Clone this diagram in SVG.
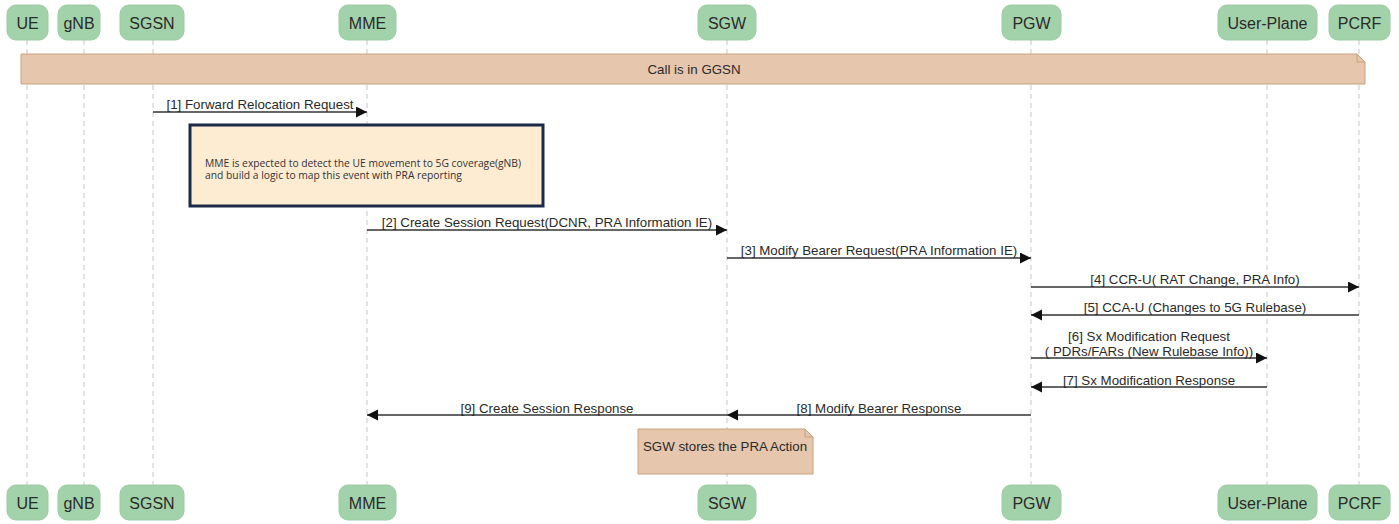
<svg xmlns="http://www.w3.org/2000/svg" width="1399" height="524" viewBox="0 0 1399 524">
<defs>
<style>
.hd{fill:#a2d2aa;stroke:#9ccba4;stroke-width:1}
.ht{font-family:"Liberation Sans",Arial,sans-serif;font-size:16px;fill:#2a2a2a;text-anchor:middle}
.ll{stroke:#c8c8c8;stroke-width:1;stroke-dasharray:5,4;fill:none}
.msg{stroke:#333;stroke-width:1.3;fill:none}
.ml{font-family:"Liberation Sans",Arial,sans-serif;font-size:13.3px;fill:#2a2a2a;text-anchor:middle}
.band{fill:#e6c6ad;stroke:#c9a27f;stroke-width:1}
.nt{font-family:"Open Sans","Liberation Sans",sans-serif;font-size:10.3px;fill:#333}
</style>
<marker id="ah" markerWidth="12" markerHeight="12" refX="11" refY="5.5" orient="auto" markerUnits="userSpaceOnUse">
<path d="M0,0 L11,5.5 L0,11 Z" fill="#111"/>
</marker>
</defs>
<rect width="1399" height="524" fill="#fff"/>
<g id="lifelines">
<line class="ll" x1="27" y1="40" x2="27" y2="485"/>
<line class="ll" x1="84" y1="40" x2="84" y2="485"/>
<line class="ll" x1="153" y1="40" x2="153" y2="485"/>
<line class="ll" x1="367" y1="40" x2="367" y2="485"/>
<line class="ll" x1="727" y1="40" x2="727" y2="485"/>
<line class="ll" x1="1031" y1="40" x2="1031" y2="485"/>
<line class="ll" x1="1267" y1="40" x2="1267" y2="485"/>
<line class="ll" x1="1359" y1="40" x2="1359" y2="485"/>
</g>
<g id="node-UE"><rect class="hd" x="7" y="5" width="41" height="35" rx="9"/><text class="ht" x="27.5" y="28.5">UE</text>
<rect class="hd" x="7" y="485" width="41" height="35" rx="9"/><text class="ht" x="27.5" y="508.5">UE</text></g>
<g id="node-gNB"><rect class="hd" x="58" y="5" width="42" height="35" rx="9"/><text class="ht" x="79" y="28.5">gNB</text>
<rect class="hd" x="58" y="485" width="42" height="35" rx="9"/><text class="ht" x="79" y="508.5">gNB</text></g>
<g id="node-SGSN"><rect class="hd" x="120" y="5" width="64" height="35" rx="9"/><text class="ht" x="152" y="28.5">SGSN</text>
<rect class="hd" x="120" y="485" width="64" height="35" rx="9"/><text class="ht" x="152" y="508.5">SGSN</text></g>
<g id="node-MME"><rect class="hd" x="339" y="5" width="57" height="35" rx="9"/><text class="ht" x="367.5" y="28.5">MME</text>
<rect class="hd" x="339" y="485" width="57" height="35" rx="9"/><text class="ht" x="367.5" y="508.5">MME</text></g>
<g id="node-SGW"><rect class="hd" x="698" y="5" width="58" height="35" rx="9"/><text class="ht" x="727" y="28.5">SGW</text>
<rect class="hd" x="698" y="485" width="58" height="35" rx="9"/><text class="ht" x="727" y="508.5">SGW</text></g>
<g id="node-PGW"><rect class="hd" x="1002" y="5" width="59" height="35" rx="9"/><text class="ht" x="1031.5" y="28.5">PGW</text>
<rect class="hd" x="1002" y="485" width="59" height="35" rx="9"/><text class="ht" x="1031.5" y="508.5">PGW</text></g>
<g id="node-UserPlane"><rect class="hd" x="1218" y="5" width="99" height="35" rx="9"/><text class="ht" x="1267.5" y="28.5">User-Plane</text>
<rect class="hd" x="1218" y="485" width="99" height="35" rx="9"/><text class="ht" x="1267.5" y="508.5">User-Plane</text></g>
<g id="node-PCRF"><rect class="hd" x="1329" y="5" width="61" height="35" rx="9"/><text class="ht" x="1359.5" y="28.5">PCRF</text>
<rect class="hd" x="1329" y="485" width="61" height="35" rx="9"/><text class="ht" x="1359.5" y="508.5">PCRF</text></g>
<g id="note-call">
<path class="band" d="M21,54 H1357 L1365,62 V84 H21 Z"/>
<path d="M1357,54 V62 H1365" fill="none" stroke="#c9a27f"/>
<text class="ml" x="694" y="74" font-size="12.5px">Call is in GGSN</text>
</g>
<g id="note-mme">
<rect x="190" y="125" width="353" height="81" fill="#fdebd2" stroke="#1c2a4a" stroke-width="3"/>
<text class="nt" x="205" y="167">MME is expected to detect the UE movement to 5G coverage(gNB)</text>
<text class="nt" x="205" y="179">and build a logic to map this event with PRA reporting</text>
</g>
<g id="note-sgw">
<path class="band" d="M638,429 H805 L813,437 V474 H638 Z"/>
<path d="M805,429 V437 H813" fill="none" stroke="#c9a27f"/>
<text class="ml" x="725" y="451" font-size="13.8px">SGW stores the PRA Action</text>
</g>
<g id="connectors">
<line class="msg" x1="153" y1="112" x2="367" y2="112" marker-end="url(#ah)"/>
<line class="msg" x1="367" y1="230" x2="727" y2="230" marker-end="url(#ah)"/>
<line class="msg" x1="727" y1="258" x2="1031" y2="258" marker-end="url(#ah)"/>
<line class="msg" x1="1031" y1="287" x2="1359" y2="287" marker-end="url(#ah)"/>
<line class="msg" x1="1359" y1="315" x2="1031" y2="315" marker-end="url(#ah)"/>
<line class="msg" x1="1031" y1="358" x2="1267" y2="358" marker-end="url(#ah)"/>
<line class="msg" x1="1267" y1="387" x2="1031" y2="387" marker-end="url(#ah)"/>
<line class="msg" x1="1031" y1="415" x2="727" y2="415" marker-end="url(#ah)"/>
<line class="msg" x1="727" y1="415" x2="367" y2="415" marker-end="url(#ah)"/>
</g>
<g id="labels">
<text class="ml" x="260" y="109">[1] Forward Relocation Request</text>
<text class="ml" x="547" y="227">[2] Create Session Request(DCNR, PRA Information IE)</text>
<text class="ml" x="879" y="255">[3] Modify Bearer Request(PRA Information IE)</text>
<text class="ml" x="1195" y="284">[4] CCR-U( RAT Change, PRA Info)</text>
<text class="ml" x="1195" y="312">[5] CCA-U (Changes to 5G Rulebase)</text>
<text class="ml" x="1149" y="341">[6] Sx Modification Request</text>
<text class="ml" x="1149" y="356">( PDRs/FARs (New Rulebase Info))</text>
<text class="ml" x="1149" y="385">[7] Sx Modification Response</text>
<text class="ml" x="879" y="413">[8] Modify Bearer Response</text>
<text class="ml" x="547" y="413">[9] Create Session Response</text>
</g>
</svg>
